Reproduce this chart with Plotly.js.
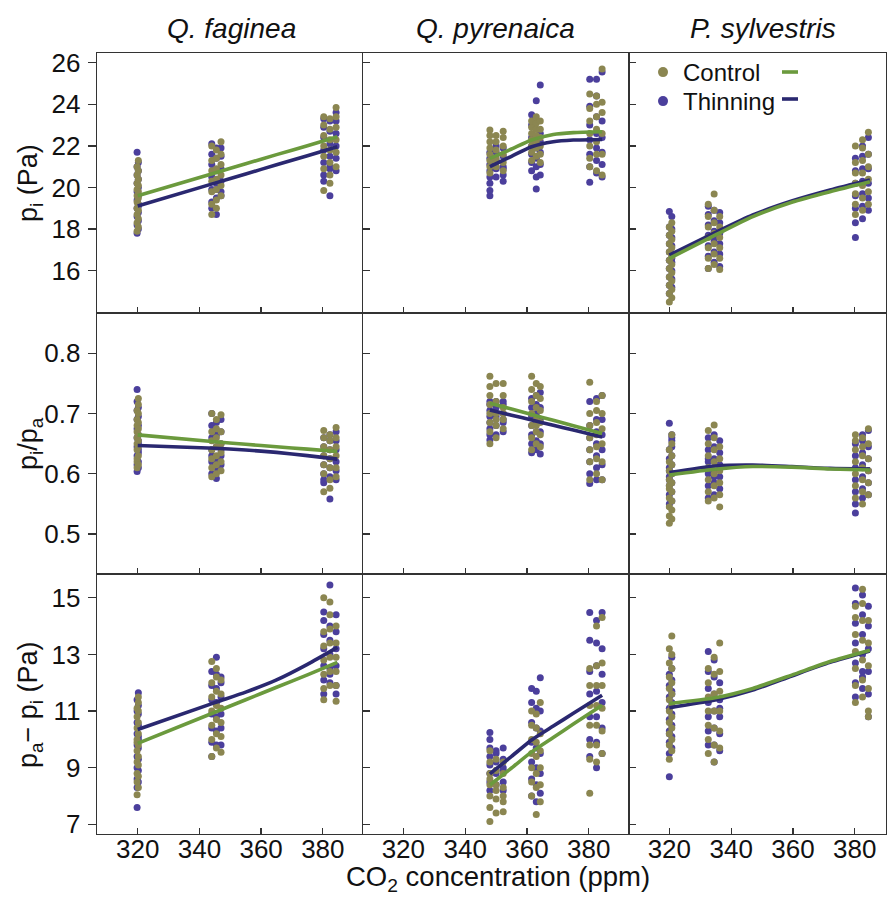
<!DOCTYPE html>
<html><head><meta charset="utf-8">
<script src="https://cdn.plot.ly/plotly-3.0.1.min.js"></script>
<style>html,body{margin:0;padding:0;background:#fff}#chart{width:888px;height:897px}</style>
</head><body><div id="chart"></div>
<script>
// ---------- x positions (CO2 ppm) per species ----------
const fagX = [319.8,319.8,319.8,319.8,319.8,319.8,319.8,319.8,319.8,319.8, 320.2,320.2,320.2,320.2,320.2,320.2,320.2,320.2,320.2,320.2,
  344,344,344,344,344,344,344, 345.5,345.5,345.5,345.5,345.5,345.5,345.5, 347,347,347,347,347,347,
  380.3,380.3,380.3,380.3,380.3,380.3,380.3, 382.3,382.3,382.3,382.3,382.3,382.3,382.3, 384.3,384.3,384.3,384.3,384.3,384.3];
const pyrX = [348,348,348,348,348,348,348,348, 350,350,350,350,350,350, 352.3,352.3,352.3,352.3,352.3,352.3,
  361.5,361.5,361.5,361.5,361.5,361.5,361.5, 363,363,363,363,363,363,363, 364.3,364.3,364.3,364.3,364.3,364.3,
  380.3,380.3,380.3,380.3,380.3,380.3,380.3, 382.5,382.5,382.5,382.5,382.5,382.5,382.5, 384.3,384.3,384.3,384.3,384.3,384.3];
const sylX = [320,320,320,320,320,320,320,320,320,320, 320.8,320.8,320.8,320.8,320.8,320.8,320.8,320.8,320.8,320.8,
  332.6,332.6,332.6,332.6,332.6,332.6,332.6, 334.5,334.5,334.5,334.5,334.5,334.5,334.5, 336.3,336.3,336.3,336.3,336.3,336.3,
  380.2,380.2,380.2,380.2,380.2,380.2,380.2, 382.5,382.5,382.5,382.5,382.5,382.5,382.5, 384.4,384.4,384.4,384.4,384.4,384.4];

// ---------- Q. faginea ----------
const fagCtrlPi = [17.9,18.3,18.7,19.0,19.3,19.6,19.9,20.2,20.6,21.0, 18.1,18.5,18.9,19.2,19.5,19.8,20.1,20.4,20.8,21.3,
  18.7,19.2,19.8,20.3,20.8,21.3,22.0, 19.0,19.4,19.9,20.4,20.9,21.4,21.8, 19.6,20.1,20.6,21.1,21.6,22.2,
  19.85,20.9,21.5,22.0,22.5,23.0,23.4, 20.2,20.6,21.2,21.8,22.3,22.8,23.3, 21.0,21.7,22.3,22.9,23.4,23.85];
const fagThinPi = [17.8,18.2,18.6,19.0,19.4,19.8,20.2,20.6,21.0,21.7, 18.0,18.4,18.8,19.1,19.2,19.6,20.0,20.4,20.8,21.2,
  19.0,19.3,19.9,20.5,21.1,21.6,22.1, 18.7,19.5,19.9,20.2,20.8,21.4,21.9, 19.6,19.8,20.3,20.9,21.5,21.9,
  20.3,20.6,21.2,21.8,22.4,22.9,23.3, 19.6,20.9,21.0,21.5,22.1,22.7,23.2, 20.8,21.4,22.0,22.6,23.2,23.6];
const fagCtrlRatio = [0.61,0.62,0.625,0.64,0.65,0.66,0.67,0.68,0.69,0.705, 0.615,0.63,0.645,0.655,0.665,0.675,0.685,0.70,0.715,0.725,
  0.595,0.61,0.625,0.64,0.655,0.67,0.70, 0.60,0.615,0.63,0.645,0.66,0.675,0.69, 0.605,0.62,0.635,0.65,0.67,0.698,
  0.57,0.60,0.615,0.63,0.645,0.66,0.672, 0.576,0.59,0.61,0.625,0.64,0.655,0.665, 0.595,0.61,0.63,0.645,0.66,0.677];
const fagThinRatio = [0.604,0.615,0.63,0.645,0.66,0.675,0.69,0.705,0.72,0.74, 0.61,0.62,0.635,0.64,0.65,0.655,0.665,0.68,0.695,0.71,
  0.60,0.62,0.63,0.64,0.66,0.68,0.70, 0.592,0.61,0.62,0.625,0.645,0.665,0.685, 0.615,0.63,0.64,0.65,0.67,0.69,
  0.585,0.59,0.60,0.615,0.63,0.645,0.66, 0.558,0.595,0.61,0.625,0.64,0.655,0.665, 0.59,0.605,0.62,0.64,0.655,0.67];
const fagCtrlDiff = [8.05,8.5,8.8,9.2,9.6,9.9,10.0,10.4,10.8,11.1, 8.3,8.7,9.1,9.4,9.8,10.2,10.6,11.0,11.3,11.5,
  9.4,10.0,10.5,11.0,11.5,12.0,12.75, 9.7,10.2,10.7,11.2,11.7,12.2,12.5, 9.55,10.1,10.6,11.1,11.6,12.1,
  11.4,11.8,12.3,12.8,13.3,13.8,15.0, 11.9,12.4,12.9,13.4,13.9,14.4,14.85, 11.35,11.9,12.4,12.9,13.4,14.0];
const fagThinDiff = [7.6,8.3,8.6,9.0,9.4,9.8,10.2,10.6,11.0,11.4, 8.5,8.9,9.3,9.7,10.0,10.1,10.5,10.9,11.2,11.65,
  9.4,9.9,10.4,10.9,11.4,11.9,12.4, 9.8,10.3,10.8,11.3,11.8,12.3,12.9, 9.8,10.4,10.9,11.5,12.0,12.2,
  11.6,12.1,12.6,13.2,13.7,14.2,14.5, 12.0,12.3,12.5,13.0,13.5,14.0,15.45, 11.6,11.9,12.6,13.2,13.8,14.4];

// ---------- Q. pyrenaica ----------
const pyrCtrlPi = [20.7,21.0,21.3,21.6,21.9,22.2,22.5,22.76, 21.0,21.2,21.4,21.8,22.2,22.5, 20.8,21.2,21.6,22.0,22.4,22.7,
  21.3,21.7,22.0,22.3,22.6,22.9,23.2, 21.5,21.9,22.2,22.5,22.8,23.1,23.4, 21.2,21.6,22.0,22.4,22.8,23.2,
  21.0,21.4,22.0,22.6,23.2,23.8,24.5, 20.8,21.6,22.2,22.8,23.4,24.0,24.4, 20.6,21.6,22.6,23.6,24.1,25.7];
const pyrThinPi = [19.6,19.85,20.2,20.5,20.8,21.1,21.4,21.7, 20.5,20.9,21.0,21.3,21.7,22.0, 20.3,20.6,20.9,21.0,21.5,21.9,
  20.8,21.2,21.6,22.0,22.4,23.0,23.5, 19.93,20.5,21.0,21.4,21.9,22.3,24.17, 20.6,21.1,21.7,22.2,22.6,24.93,
  20.25,21.0,21.6,22.3,23.0,23.9,25.2, 20.7,21.3,21.9,22.6,23.4,24.4,25.2, 20.5,21.1,21.7,22.4,23.2,25.55];
const pyrCtrlRatio = [0.65,0.67,0.685,0.70,0.715,0.73,0.745,0.762, 0.66,0.68,0.69,0.70,0.72,0.75, 0.675,0.69,0.70,0.71,0.73,0.75,
  0.64,0.66,0.68,0.70,0.72,0.74,0.762, 0.65,0.67,0.68,0.69,0.71,0.73,0.75, 0.645,0.665,0.685,0.705,0.725,0.745,
  0.59,0.62,0.64,0.66,0.68,0.70,0.752, 0.60,0.625,0.645,0.665,0.685,0.705,0.72, 0.59,0.62,0.65,0.675,0.70,0.73];
const pyrThinRatio = [0.656,0.665,0.675,0.685,0.695,0.705,0.715,0.72, 0.665,0.68,0.695,0.70,0.71,0.72, 0.67,0.685,0.69,0.70,0.715,0.72,
  0.635,0.65,0.665,0.68,0.695,0.71,0.725, 0.64,0.655,0.67,0.685,0.70,0.715,0.73, 0.633,0.65,0.67,0.69,0.71,0.735,
  0.584,0.60,0.62,0.64,0.66,0.68,0.72, 0.59,0.61,0.63,0.65,0.67,0.69,0.725, 0.59,0.615,0.64,0.665,0.69,0.73];
const pyrCtrlDiff = [7.1,7.6,8.0,8.4,8.6,8.8,9.2,9.6, 7.4,7.9,8.2,8.4,8.9,9.3, 7.45,7.8,8.0,8.3,8.8,9.2,
  8.0,8.5,9.0,9.5,10.0,10.5,11.0, 7.35,8.3,8.8,9.4,9.9,10.4,10.9, 7.8,8.4,9.0,9.6,10.2,11.3,
  8.1,9.3,9.8,10.5,11.2,11.9,12.5, 9.2,9.8,10.5,11.2,11.9,12.6,14.0, 9.5,10.3,11.1,11.9,12.7,14.3];
const pyrThinDiff = [8.2,8.5,8.8,9.1,9.4,9.7,10.0,10.24, 8.4,8.8,8.9,9.2,9.5,9.6, 8.2,8.5,8.9,9.0,9.3,9.7,
  8.0,8.6,9.2,9.9,10.6,11.3,11.8, 7.8,8.4,9.0,9.7,10.4,11.1,11.7, 8.1,8.8,9.5,10.3,11.0,12.18,
  9.4,10.0,10.8,11.6,12.4,13.5,14.48, 9.0,9.9,10.8,11.7,12.6,13.4,14.2, 9.5,10.4,11.3,12.3,13.2,14.48];

// ---------- P. sylvestris ----------
const sylCtrlPi = [14.5,14.9,15.3,15.7,16.1,16.5,16.9,17.3,17.7,18.1, 14.7,15.1,15.5,15.9,16.3,16.7,17.1,17.5,17.9,18.3,
  16.1,16.6,17.1,17.6,18.1,18.6,19.2, 16.3,16.8,17.3,17.8,18.3,18.9,19.69, 16.06,16.6,17.1,17.6,18.1,18.6,
  18.7,19.2,19.7,20.2,20.7,21.2,22.0, 18.9,19.5,20.1,20.7,21.3,21.9,22.3, 19.2,19.8,20.4,21.0,21.6,22.65];
const sylThinPi = [14.9,15.3,15.7,16.1,16.5,16.9,17.3,17.7,18.1,18.84, 15.2,15.6,16.0,16.4,16.6,16.8,17.2,17.6,18.0,18.6,
  16.1,16.7,17.2,17.7,18.2,18.7,19.1, 16.4,16.9,17.4,17.6,17.9,18.4,18.9, 16.2,16.8,17.3,17.8,18.3,18.8,
  17.6,18.3,19.0,19.6,20.2,20.8,21.4, 18.5,19.1,19.7,20.3,20.9,21.5,22.0, 18.9,19.5,20.2,20.9,21.6,22.4];
const sylCtrlRatio = [0.518,0.53,0.545,0.56,0.575,0.58,0.59,0.605,0.62,0.64, 0.525,0.54,0.555,0.57,0.585,0.60,0.615,0.63,0.65,0.665,
  0.555,0.57,0.59,0.61,0.63,0.65,0.672, 0.56,0.58,0.60,0.62,0.64,0.66,0.681, 0.545,0.565,0.585,0.605,0.625,0.645,
  0.56,0.58,0.60,0.62,0.64,0.655,0.665, 0.55,0.57,0.59,0.61,0.63,0.645,0.66, 0.565,0.585,0.605,0.625,0.65,0.675];
const sylThinRatio = [0.55,0.565,0.58,0.59,0.595,0.605,0.61,0.625,0.64,0.684, 0.555,0.57,0.585,0.60,0.615,0.63,0.645,0.655,0.66,0.665,
  0.56,0.58,0.60,0.62,0.625,0.64,0.66, 0.565,0.585,0.595,0.605,0.625,0.645,0.665, 0.575,0.595,0.61,0.615,0.635,0.655,
  0.535,0.55,0.57,0.59,0.61,0.63,0.65, 0.56,0.575,0.595,0.615,0.635,0.655,0.665, 0.565,0.585,0.605,0.625,0.645,0.672];
const sylCtrlDiff = [9.3,9.8,10.2,10.6,11.0,11.4,11.8,12.2,12.7,13.2, 9.6,10.0,10.4,10.8,11.2,11.6,12.0,12.5,13.0,13.65,
  9.5,10.0,10.5,11.0,11.5,12.0,12.5, 9.2,9.8,10.4,11.0,11.6,12.3,12.9, 9.7,10.3,11.0,11.7,12.4,13.4,
  11.3,11.9,12.5,13.1,13.7,14.3,14.7, 11.5,12.1,12.8,13.5,14.2,14.8,15.3, 10.8,11.0,11.8,12.6,13.4,14.2];
const sylThinDiff = [8.68,9.5,9.9,10.2,10.3,10.7,11.1,11.5,11.9,12.3, 9.7,10.1,10.5,10.9,11.3,11.6,11.7,12.1,12.5,12.9,
  9.8,10.3,10.8,11.3,11.8,12.4,13.1, 9.2,9.8,10.4,11.0,11.6,12.2,12.8, 9.6,10.2,10.8,11.1,11.4,12.0,
  11.5,12.0,12.7,13.4,14.1,14.8,15.35, 11.8,12.2,12.4,13.0,13.7,14.4,15.1, 10.8,11.6,12.4,13.2,14.0,14.7];

// ---------- fitted lines ----------
const fagLineX = [320, 345, 355, 365, 375, 384.7];
const fagCtrlPiLine = [19.6, 20.7, 21.14, 21.58, 22.01, 22.44];
const fagThinPiLine = [19.11, 20.21, 20.65, 21.09, 21.53, 21.96];
const fagCtrlRatioLine = [0.6646, 0.6532, 0.649, 0.6449, 0.6409, 0.637];
const fagThinRatioLine = [0.647, 0.6425, 0.6395, 0.6355, 0.6302, 0.6243];
const fagCtrlDiffLine = [9.86, 10.96, 11.4, 11.84, 12.28, 12.72];
const fagThinDiffLine = [10.35, 11.3, 11.67, 12.1, 12.65, 13.25];

const pyrLineX = [348, 355, 361.5, 368.5, 375, 384.3];
const pyrCtrlPiLine = [21.4, 21.85, 22.28, 22.55, 22.64, 22.68];
const pyrThinPiLine = [21.0, 21.5, 21.96, 22.2, 22.28, 22.31];
const pyrCtrlRatioLine = [0.717, 0.7074, 0.6984, 0.6888, 0.6798, 0.667];
const pyrThinRatioLine = [0.706, 0.6973, 0.6893, 0.6806, 0.6726, 0.661];
const pyrCtrlDiffLine = [8.39, 8.99, 9.56, 10.07, 10.54, 11.21];
const pyrThinDiffLine = [8.78, 9.4, 9.98, 10.47, 10.92, 11.56];

const sylLineX = [320, 334.8, 347, 359.6, 372, 384.9];
const sylCtrlPiLine = [16.59, 17.71, 18.6, 19.29, 19.8, 20.28];
const sylThinPiLine = [16.75, 17.83, 18.68, 19.35, 19.88, 20.36];
const sylCtrlRatioLine = [0.598, 0.6075, 0.612, 0.611, 0.608, 0.6063];
const sylThinRatioLine = [0.602, 0.613, 0.6146, 0.612, 0.609, 0.608];
const sylCtrlDiffLine = [11.27, 11.47, 11.8, 12.27, 12.75, 13.15];
const sylThinDiffLine = [11.12, 11.39, 11.74, 12.24, 12.72, 13.12];

// ---------- labels ----------
const speciesNames = ['<i>Q. faginea</i>', '<i>Q. pyrenaica</i>', '<i>P. sylvestris</i>'];
const yTitles = ['p<sub>i</sub> (Pa)', 'p<sub>i</sub>/p<sub>a</sub>', 'p<sub>a</sub>\u2212 p<sub>i</sub> (Pa)'];
const xTitle = 'CO<sub>2</sub> concentration (ppm)';
const xTicks = [320, 340, 360, 380];
const yTicksRows = [[16, 18, 20, 22, 24, 26], [0.5, 0.6, 0.7, 0.8], [7, 9, 11, 13, 15]];
const legendNames = ['Control', 'Thinning'];

// ---------- assemble ----------
const W = 888, H = 897;
const colors = {ctrlPt: '#8b8651', thinPt: '#4b3f9c', ctrlLn: '#6b9a3d', thinLn: '#2a2870'};
const FONT = 'Liberation Sans, Arial, Helvetica, sans-serif';
const speciesData = [
  {x: fagX, lx: fagLineX,
   ctrl: [fagCtrlPi, fagCtrlRatio, fagCtrlDiff], thin: [fagThinPi, fagThinRatio, fagThinDiff],
   ctrlL: [fagCtrlPiLine, fagCtrlRatioLine, fagCtrlDiffLine], thinL: [fagThinPiLine, fagThinRatioLine, fagThinDiffLine]},
  {x: pyrX, lx: pyrLineX,
   ctrl: [pyrCtrlPi, pyrCtrlRatio, pyrCtrlDiff], thin: [pyrThinPi, pyrThinRatio, pyrThinDiff],
   ctrlL: [pyrCtrlPiLine, pyrCtrlRatioLine, pyrCtrlDiffLine], thinL: [pyrThinPiLine, pyrThinRatioLine, pyrThinDiffLine]},
  {x: sylX, lx: sylLineX,
   ctrl: [sylCtrlPi, sylCtrlRatio, sylCtrlDiff], thin: [sylThinPi, sylThinRatio, sylThinDiff],
   ctrlL: [sylCtrlPiLine, sylCtrlRatioLine, sylCtrlDiffLine], thinL: [sylThinPiLine, sylThinRatioLine, sylThinDiffLine]}
];

const colPx = [[97, 362], [363, 629], [629, 886]];
const colRange = [[306.8, 392.7], [306.95, 393.0], [306.95, 390.1]];
const rowPx = [[53, 313], [313, 574], [574, 834]];
const rowRange = [[13.966, 26.466], [0.4336, 0.867], [6.66, 15.84]];

const traces = [];
const layout = {
  width: W, height: H, margin: {l: 0, r: 0, t: 0, b: 0},
  paper_bgcolor: '#fff', plot_bgcolor: 'rgba(0,0,0,0)',
  font: {family: FONT, size: 25, color: '#111'},
  showlegend: true,
  legend: {x: 643 / W, xanchor: 'left', y: (H - 50) / H, yanchor: 'top', bgcolor: 'rgba(0,0,0,0)',
           font: {family: FONT, size: 24, color: '#111'}, itemwidth: 30},
  legend2: {x: 643 / W, xanchor: 'left', y: (H - 79) / H, yanchor: 'top', bgcolor: 'rgba(0,0,0,0)',
           font: {family: FONT, size: 24, color: '#111'}, itemwidth: 30},
  annotations: [], shapes: []
};

for (let r = 0; r < 3; r++) {
  for (let c = 0; c < 3; c++) {
    const k = r * 3 + c + 1;
    const xa = 'x' + (k === 1 ? '' : k), ya = 'y' + (k === 1 ? '' : k);
    const sd = speciesData[c];
    traces.push({type: 'scatter', mode: 'markers', x: sd.x, y: sd.thin[r], xaxis: xa, yaxis: ya,
      marker: {color: colors.thinPt, size: 7, line: {width: 0}}, showlegend: false, hoverinfo: 'skip'});
    traces.push({type: 'scatter', mode: 'markers', x: sd.x, y: sd.ctrl[r], xaxis: xa, yaxis: ya,
      marker: {color: colors.ctrlPt, size: 7, line: {width: 0}}, showlegend: false, hoverinfo: 'skip'});
    traces.push({type: 'scatter', mode: 'lines', x: sd.lx, y: sd.thinL[r], xaxis: xa, yaxis: ya,
      line: {color: colors.thinLn, width: 3.6, shape: 'spline', smoothing: 0.6}, showlegend: false, hoverinfo: 'skip'});
    traces.push({type: 'scatter', mode: 'lines', x: sd.lx, y: sd.ctrlL[r], xaxis: xa, yaxis: ya,
      line: {color: colors.ctrlLn, width: 3.6, shape: 'spline', smoothing: 0.6}, showlegend: false, hoverinfo: 'skip'});

    layout['xaxis' + (k === 1 ? '' : k)] = {
      domain: [colPx[c][0] / W, colPx[c][1] / W], range: colRange[c], anchor: ya,
      tickvals: xTicks, ticks: 'inside', ticklen: 6, tickwidth: 1.3, tickcolor: '#333',
      showticklabels: r === 2, tickfont: {size: 26, color: '#111'}, ticklabelstandoff: -9,
      showline: true, mirror: true, linecolor: '#333', linewidth: 1.3,
      showgrid: false, zeroline: false, fixedrange: true
    };
    layout['yaxis' + (k === 1 ? '' : k)] = {
      domain: [(H - rowPx[r][1]) / H, (H - rowPx[r][0]) / H], range: rowRange[r], anchor: xa,
      tickvals: yTicksRows[r], ticks: c === 0 ? 'outside' : 'inside', ticklen: c === 0 ? 8 : 7,
      tickwidth: 1.3, tickcolor: '#333', ticklabelstandoff: 2,
      showticklabels: c === 0, tickfont: {size: 26, color: '#111'}, tickformat: r === 1 ? '.1f' : 'd',
      showline: true, mirror: true, linecolor: '#333', linewidth: 1.3,
      showgrid: false, zeroline: false, fixedrange: true
    };
  }
}
// inside tick marks on the first column (ticks cross the axis there)
[[10, 1, 0], [11, 4, 1], [12, 7, 2]].forEach(([n, k, r]) => {
  layout['yaxis' + n] = {
    overlaying: 'y' + (k === 1 ? '' : k), anchor: 'x' + (k === 1 ? '' : k), side: 'left',
    range: rowRange[r], tickvals: yTicksRows[r], ticks: 'inside', ticklen: 7, tickwidth: 1.3, tickcolor: '#333',
    showticklabels: false, showline: false, showgrid: false, zeroline: false, fixedrange: true
  };
});

// legend entries (marker keys) + line keys drawn after the text
traces.push({type: 'scatter', mode: 'markers', x: [null], y: [null], name: legendNames[0], legend: 'legend',
  marker: {color: colors.ctrlPt, size: 10}, xaxis: 'x3', yaxis: 'y3', showlegend: true});
traces.push({type: 'scatter', mode: 'markers', x: [null], y: [null], name: legendNames[1], legend: 'legend2',
  marker: {color: colors.thinPt, size: 10}, xaxis: 'x3', yaxis: 'y3', showlegend: true});
layout.shapes.push({type: 'line', xref: 'paper', yref: 'paper', x0: 782 / W, x1: 798 / W,
  y0: (H - 72) / H, y1: (H - 72) / H, line: {color: colors.ctrlLn, width: 3.6}});
layout.shapes.push({type: 'line', xref: 'paper', yref: 'paper', x0: 782 / W, x1: 798 / W,
  y0: (H - 99) / H, y1: (H - 99) / H, line: {color: colors.thinLn, width: 3.6}});

// column titles
const titleX = [231, 496, 763];
for (let c = 0; c < 3; c++) {
  layout.annotations.push({text: speciesNames[c], xref: 'paper', yref: 'paper', x: titleX[c] / W, y: (H - 28) / H,
    xanchor: 'center', yanchor: 'middle', showarrow: false, font: {family: FONT, size: 28, color: '#111'}});
}
// y titles
const yTitleY = [183, 444, 705];
for (let r = 0; r < 3; r++) {
  layout.annotations.push({text: yTitles[r], xref: 'paper', yref: 'paper', x: 30 / W, y: (H - yTitleY[r]) / H,
    xanchor: 'center', yanchor: 'middle', textangle: -90, showarrow: false, font: {family: FONT, size: 27, color: '#111'}});
}
// x title
layout.annotations.push({text: xTitle, xref: 'paper', yref: 'paper', x: 498 / W, y: (H - 878) / H,
  xanchor: 'center', yanchor: 'middle', showarrow: false, font: {family: FONT, size: 27.5, color: '#111'}});

Plotly.newPlot('chart', traces, layout, {displayModeBar: false, staticPlot: true});
</script></body></html>
